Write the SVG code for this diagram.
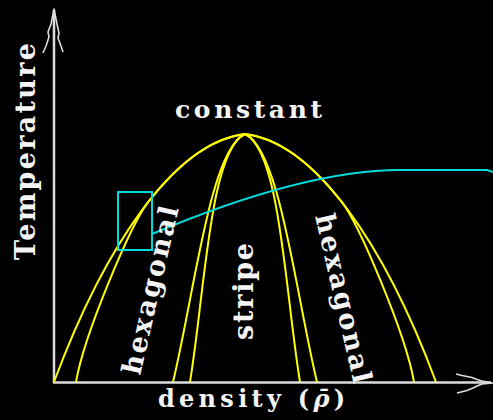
<svg xmlns="http://www.w3.org/2000/svg" xmlns:xlink="http://www.w3.org/1999/xlink" width="493" height="420" viewBox="0 0 493 420">
<style>
.ax{fill:none;stroke:#dcdcdc;stroke-width:2.5}
.ah{fill:none;stroke:#dcdcdc;stroke-width:1.6;stroke-linejoin:round}
.yl{fill:none;stroke:#ffff00;stroke-width:2}
.cy{fill:none;stroke:#00dcdc;stroke-width:2}
.t{font-family:"DejaVu Serif","Liberation Serif",serif;font-weight:bold;fill:#f4f4f4}
</style>
<defs>
<path id="hexOuter" d="M245,134 C175,142 105,245 54,382"/>
<path id="hexInner" d="M245,134 C212.1,137.8 179.2,162.5 148.3,201.9 C130.9,224.1 84,335 76,382"/>
<path id="stripeOuter" d="M245,134 C210,150 195,290 173,382"/>
<path id="stripeInner" d="M245,134 C210,150 205,290 190,382"/>
</defs>
<rect width="493" height="420" fill="#000"/>
<g id="axes">
<line class="ax" x1="54" y1="10" x2="54" y2="383"/>
<line class="ax" x1="53" y1="382.5" x2="491" y2="382.5"/>
<path class="ah" d="M43,53 L46,46 L49,37 L48,32 L51,24 L54,9 L57,24 L59,33 L58,38 L61,46 L63,52"/>
<path class="ah" d="M456,374 L462,375.5 L472,377.5 L477,379.5 L482,381 L493,383 L482,384 L477,386 L473,388 L467,390.5 L457,393"/>
</g>
<g id="phase-boundaries">
<g id="left-boundaries">
<use class="yl" xlink:href="#hexOuter"/>
<use class="yl" xlink:href="#hexInner"/>
<use class="yl" xlink:href="#stripeOuter"/>
<use class="yl" xlink:href="#stripeInner"/>
</g>
<g id="right-boundaries" transform="matrix(-1 0 0 1 490 0)">
<use class="yl" xlink:href="#hexOuter"/>
<use class="yl" xlink:href="#hexInner"/>
<use class="yl" xlink:href="#stripeOuter"/>
<use class="yl" xlink:href="#stripeInner"/>
</g>
</g>
<g id="inset">
<rect class="cy" x="118" y="192" width="34" height="58"/>
<path class="cy" d="M152,234 Q304,170 400,170 L487,170 L493,172"/>
</g>
<g id="labels">
<text class="t" x="175" y="118" font-size="25" textLength="147" lengthAdjust="spacing">constant</text>
<text class="t" transform="translate(35,260) rotate(-90)" font-size="27" textLength="217" lengthAdjust="spacing">Temperature</text>
<text class="t" transform="translate(140,376) rotate(-77)" font-size="27" textLength="172" lengthAdjust="spacing">hexagonal</text>
<text class="t" transform="translate(253,340) rotate(-90)" font-size="27" textLength="97" lengthAdjust="spacing">stripe</text>
<text class="t" transform="translate(315,216) rotate(77)" font-size="27" textLength="173" lengthAdjust="spacing">hexagonal</text>
<text class="t" x="158" y="407" font-size="24" textLength="187" lengthAdjust="spacing">density (<tspan font-style="italic">ρ̄</tspan>)</text>
</g>
</svg>
